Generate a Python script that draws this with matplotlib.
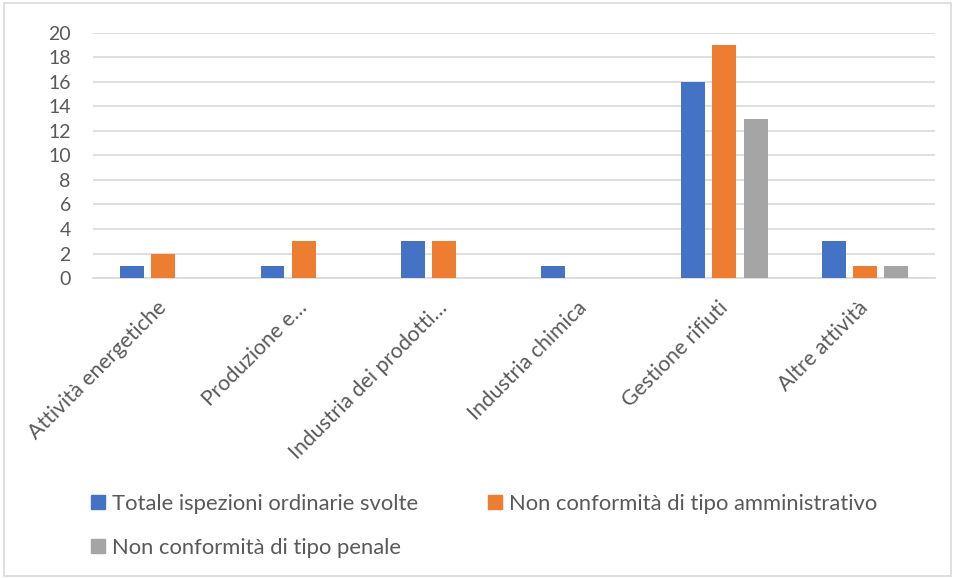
import numpy as np
import matplotlib.pyplot as plt
from matplotlib.patches import Patch, Rectangle

# Dati del grafico
categories = ["Attività energetiche", "Produzione e…", "Industria dei prodotti…",
              "Industria chimica", "Gestione rifiuti", "Altre attività"]
series_names = ["Totale ispezioni ordinarie svolte",
                "Non conformità di tipo amministrativo",
                "Non conformità di tipo penale"]
totale_ispezioni = [1, 1, 3, 1, 16, 3]
nc_amministrativo = [2, 3, 3, 0, 19, 1]
nc_penale = [0, 0, 0, 0, 13, 1]
yticks = list(range(0, 21, 2))

colors = ["#4472C4", "#ED7D31", "#A5A5A5"]
text_color = "#595959"
plt.rcParams['font.family'] = ['Lato', 'DejaVu Sans']

fig = plt.figure(figsize=(9.57, 5.78), dpi=100)
ax = fig.add_axes([0.0972, 0.519, 0.8798, 0.424])

x = np.arange(len(categories))
width = 0.171
offset = 0.221
for i, vals in enumerate([totale_ispezioni, nc_amministrativo, nc_penale]):
    ax.bar(x + (i - 1) * offset, vals, width, color=colors[i], zorder=3)

ax.set_xlim(-0.5, len(categories) - 0.5)
ax.set_ylim(0, 20)
ax.set_yticks(yticks)
ax.yaxis.grid(True, color="#D9D9D9", linewidth=1.2, zorder=0)
for s in ["top", "right", "left"]:
    ax.spines[s].set_visible(False)
ax.spines["bottom"].set_color("#D9D9D9")
ax.spines["bottom"].set_linewidth(1.2)
ax.tick_params(axis="y", length=0, pad=16, labelsize=14, labelcolor=text_color)
ax.tick_params(axis="x", length=0, pad=19)
ax.set_xticks(x)
ax.set_xticklabels(categories, rotation=45, ha="right", va="center",
                   rotation_mode="anchor", fontsize=15.3, color=text_color)

# Legenda (due colonne, tre voci)
handles = [Patch(color=colors[0]), Patch(color=colors[2]), Patch(color=colors[1])]
labels = [series_names[0], series_names[2], series_names[1]]
fig.legend(handles, labels, ncol=2, loc="upper left", bbox_to_anchor=(0.0951, 0.146),
           frameon=False, fontsize=15.8, labelcolor=text_color, borderpad=0,
           borderaxespad=0, handlelength=0.64, handleheight=0.64,
           handletextpad=0.32, columnspacing=3.2, labelspacing=1.1)

# Bordo del grafico
fig.patches.append(Rectangle((0.004, 0.004), 0.99, 0.99, transform=fig.transFigure,
                             fill=False, edgecolor="#D9D9D9", linewidth=1.2))

plt.savefig("out.png", dpi=100)
